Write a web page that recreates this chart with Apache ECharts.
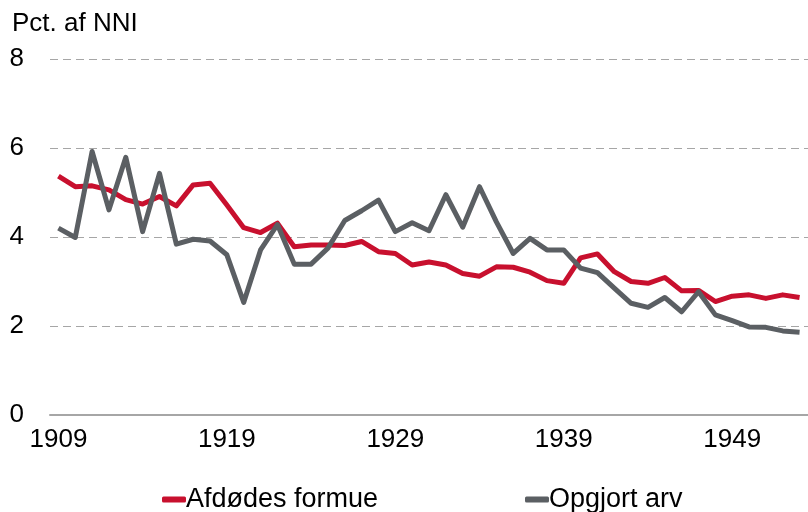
<!DOCTYPE html>
<html>
<head>
<meta charset="utf-8">
<script src="https://cdn.jsdelivr.net/npm/echarts@6/dist/echarts.min.js"></script>
<style>html,body{margin:0;padding:0;background:#fff;}#c{width:808px;height:512px;}</style>
</head>
<body>
<div id="c"></div>
<script>
const years = [];
for (let y = 1909; y <= 1953; y++) years.push(String(y));
const afdodesFormue = [5.37,5.13,5.15,5.06,4.84,4.74,4.91,4.70,5.17,5.21,4.72,4.21,4.10,4.31,3.78,3.82,3.82,3.81,3.90,3.67,3.63,3.37,3.44,3.37,3.18,3.12,3.33,3.32,3.21,3.02,2.96,3.53,3.62,3.22,3.00,2.96,3.09,2.79,2.80,2.55,2.67,2.70,2.62,2.70,2.64];
const opgjortArv = [4.20,3.99,5.92,4.61,5.79,4.12,5.43,3.84,3.95,3.91,3.60,2.53,3.71,4.28,3.39,3.39,3.75,4.37,4.59,4.83,4.12,4.32,4.14,4.95,4.22,5.13,4.34,3.63,3.97,3.71,3.71,3.30,3.20,2.85,2.51,2.42,2.64,2.32,2.77,2.25,2.12,1.98,1.97,1.89,1.86];
const seriesNames = ['Afdødes formue', 'Opgjort arv'];
const yTitle = 'Pct. af NNI';

const RED = '#C8102E', GREY = '#5B5F63';
const FONT = 'Liberation Sans, Arial, sans-serif';
const FS = 26;
const LFS = 27;
const chart = echarts.init(document.getElementById('c'), null, {renderer: 'canvas'});
chart.setOption({
  animation: false,
  backgroundColor: '#fff',
  title: {text: yTitle, left: 7, top: 6, textStyle: {fontFamily: FONT, fontSize: FS, fontWeight: 'normal', color: '#000'}},
  grid: {left: 50, top: 59, width: 765, bottom: 97, containLabel: false},
  legend: [
    {data: [seriesNames[0]], left: 157, top: 481, itemWidth: 24, itemHeight: 6, icon: 'roundRect', textStyle: {fontFamily: FONT, fontSize: LFS, color: '#000', padding: [0,0,0,-5]}},
    {data: [seriesNames[1]], left: 520, top: 481, itemWidth: 24, itemHeight: 6, icon: 'roundRect', textStyle: {fontFamily: FONT, fontSize: LFS, color: '#000', padding: [0,0,0,-5]}}
  ],
  xAxis: {
    type: 'category', data: years, boundaryGap: true,
    axisLine: {lineStyle: {color: '#A6A6A6', width: 2}},
    axisTick: {interval: 9, length: 9, lineStyle: {color: '#A6A6A6', width: 1}},
    axisLabel: {interval: 9, margin: 12, fontFamily: FONT, fontSize: FS, color: '#000'}
  },
  yAxis: {
    type: 'value', min: 0, max: 8, interval: 2,
    axisLine: {show: false}, axisTick: {show: false},
    axisLabel: {margin: 26, fontFamily: FONT, fontSize: FS, color: '#000'},
    splitLine: {lineStyle: {color: '#A6A6A6', type: [8, 5], width: 1}}
  },
  series: [
    {name: seriesNames[0], type: 'line', data: afdodesFormue, symbol: 'none', lineStyle: {color: RED, width: 5, join: 'round'}, itemStyle: {color: RED}, z: 2},
    {name: seriesNames[1], type: 'line', data: opgjortArv, symbol: 'none', lineStyle: {color: GREY, width: 5, join: 'round'}, itemStyle: {color: GREY}, z: 3}
  ]
});
</script>
</body>
</html>
